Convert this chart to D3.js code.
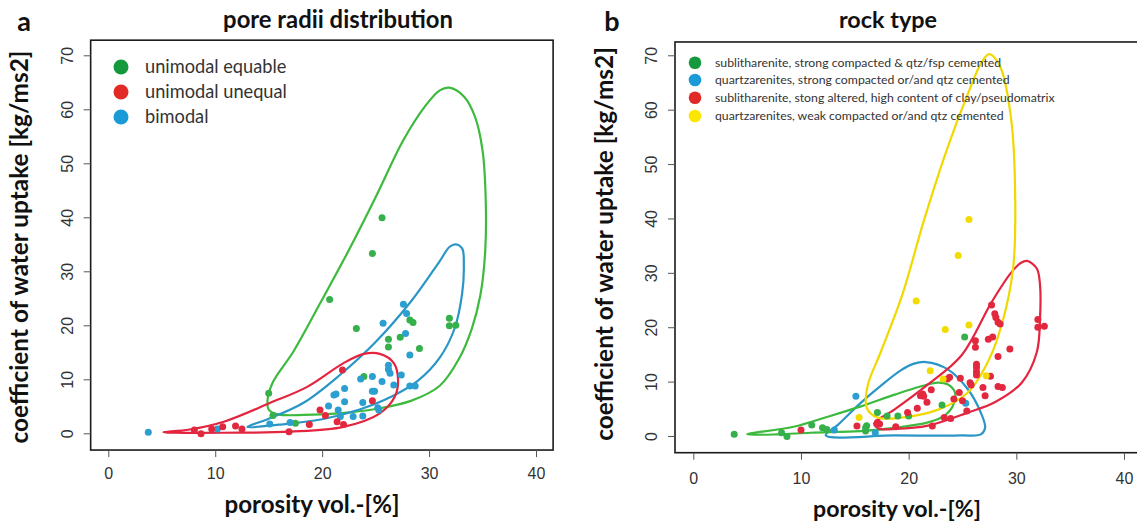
<!DOCTYPE html>
<html><head><meta charset="utf-8">
<script src="https://cdn.jsdelivr.net/npm/d3@7"></script>
<style>body{margin:0;background:#fff}</style>
</head><body>
<svg id="c" width="1137" height="526"></svg>
<script>
// ---------------- data ----------------
const xTicks = [0, 10, 20, 30, 40];
const yTicks = [0, 10, 20, 30, 40, 50, 60, 70];
const xLabel = "porosity vol.-[%]";
const yLabel = "coefficient of water uptake [kg/ms2]";
const titleA = "pore radii distribution";
const titleB = "rock type";

const legendA = ["unimodal equable", "unimodal unequal", "bimodal"];
const legendB = [
  "sublitharenite, strong compacted & qtz/fsp cemented",
  "quartzarenites, strong compacted or/and qtz cemented",
  "sublitharenite, stong altered, high content of clay/pseudomatrix",
  "quartzarenites, weak compacted or/and qtz cemented"
];

// panel a points
const aEquable = [[25.6,39.9],[24.7,33.3],[20.7,24.8],[23.2,19.4],[26.2,17.4],[26.2,16.0],[27.3,17.8],
  [28.2,21.0],[28.5,20.5],[29.1,15.7],[31.9,21.3],[31.9,19.9],[32.5,20.0],[15.0,7.4],[15.4,3.3],[17.5,1.85],[23.9,10.5]];
const aUnequal = [[8.05,0.6],[8.67,-0.1],[9.67,0.8],[10.7,1.2],[11.9,1.35],[12.5,0.8],[16.9,0.3],[18.8,1.65],
  [19.8,4.3],[20.3,3.3],[21.4,2.15],[22.0,1.65],[21.9,11.7],[24.7,6.05]];
const aBimodal = [[3.74,0.19],[10.2,0.8],[15.1,1.7],[17.0,2.0],[20.6,5.05],[21.1,7.1],[21.3,7.3],[21.5,4.3],
  [21.7,3.1],[22.1,8.3],[22.1,5.85],[22.9,3.1],[23.8,3.2],[23.6,10.05],[24.7,10.5],[23.8,5.7],[24.7,7.8],
  [24.9,7.8],[25.2,4.75],[25.3,4.3],[25.6,9.6],[26.2,12.6],[26.2,11.8],[26.35,11.1],[26.7,8.95],[27.4,10.8],
  [28.2,14.5],[28.2,8.75],[28.7,8.75],[25.7,20.4],[27.6,23.9],[27.9,22.2],[27.8,18.5]];

// panel a outlines
const aEquableHull = [[31.9,64.0],[33.3,62.3],[34.3,58.6],[35.0,52.4],[35.3,43.1],[35.25,33.7],[34.8,25.6],
  [34.0,19.4],[32.8,13.8],[31.0,8.8],[28.3,6.0],[25.0,4.5],[21.6,3.7],[18.3,3.4],[15.9,3.5],[15.0,4.4],
  [14.9,6.3],[15.4,9.5],[17.3,15.1],[19.9,24.4],[22.6,34.3],[25.0,43.7],[27.6,54.3],[29.6,60.5],[31.0,63.5]];
const aUnequalHull = [[5.15,0.2],[7.6,0.7],[10.8,2.15],[15.1,5.6],[18.6,8.6],[22.0,13.0],[23.9,14.7],
  [25.4,14.7],[26.7,13.0],[27.1,9.9],[26.8,6.8],[25.4,3.7],[22.0,1.2],[17.0,0.3],[10.8,0.1],[6.0,0.1]];
const aBimodalHull = [[32.5,35.0],[33.1,34.2],[33.25,31.0],[33.1,26.0],[32.4,19.5],[31.0,14.0],[29.0,9.8],
  [26.5,6.8],[23.5,4.4],[20.0,2.6],[16.0,1.6],[13.0,1.2],[14.9,2.6],[18.3,5.7],[21.6,10.7],[25.0,16.9],
  [28.3,24.4],[31.0,31.9],[31.9,34.5]];

// panel b points
const bSubCemented = [[3.8,0.3],[8.7,-0.1],[8.2,0.6],[11.0,2.0],[12.0,1.5],[12.4,1.2],[16.0,1.5],[16.0,0.9],
  [16.1,1.9],[17.1,4.3],[18.0,3.7],[19.0,3.7],[20.0,3.7],[23.1,5.7],[25.2,18.2]];
const bQtzStrong = [[15.1,7.3],[25.3,6.0],[13.1,1.1],[16.9,0.6]];
const bSubAltered = [[10.0,1.1],[15.2,1.85],[17.1,2.5],[17.3,2.2],[18.8,1.7],[19.9,4.3],[20.8,5.1],[21.1,7.4],
  [21.3,7.7],[21.4,7.3],[21.7,6.2],[22.1,8.5],[22.2,1.85],[23.6,10.5],[23.8,10.8],[23.3,3.4],[23.9,3.2],
  [24.2,6.8],[24.7,8.0],[24.8,10.6],[25.0,6.5],[25.4,4.6],[25.7,9.8],[25.8,9.4],[26.2,17.5],[26.2,16.3],
  [26.3,13.2],[26.3,12.6],[26.3,11.8],[26.3,11.2],[26.9,8.9],[27.1,7.4],[27.4,17.8],[27.7,24.1],[27.8,18.2],
  [27.6,11.0],[28.0,22.5],[28.1,21.8],[28.3,20.9],[28.5,20.6],[28.3,14.6],[28.3,9.1],[28.7,8.9],[29.4,16.0],
  [32.0,21.4],[32.0,20.0],[32.6,20.2]];
const bQtzWeak = [[25.6,39.8],[24.6,33.2],[20.7,24.8],[23.4,19.6],[25.6,20.4],[22.0,12.0],[23.2,10.5],
  [27.2,11.1],[15.4,3.4]];

// panel b outlines
const bSubCementedHull = [[5.0,0.3],[9.3,1.7],[12.4,3.5],[15.5,5.4],[18.7,7.6],[21.1,9.1],[22.7,9.8],
  [23.6,9.5],[24.3,8.0],[24.1,5.5],[23.3,3.7],[21.8,2.5],[18.7,1.5],[15.5,0.9],[10.9,0.6],[7.8,0.3]];
const bQtzStrongHull = [[21.6,13.6],[23.6,12.3],[25.5,8.6],[26.7,4.3],[27.1,1.5],[26.7,0.3],[24.9,0.1],
  [18.7,0.1],[12.3,0.1],[13.4,2.0],[15.5,6.0],[17.4,9.2],[19.3,12.1],[20.5,13.3]];
const bSubAlteredHull = [[31.0,32.2],[31.9,30.8],[32.2,27.8],[32.2,21.6],[31.9,15.4],[30.5,9.8],[28.0,6.2],
  [25.5,4.3],[21.8,1.9],[18.8,1.3],[17.2,1.4],[16.8,2.3],[18.7,4.9],[21.8,9.5],[24.9,14.8],[27.7,24.6],
  [29.5,30.0],[30.4,31.8]];
const bQtzWeakHull = [[27.5,70.2],[28.5,67.9],[29.5,58.6],[29.9,43.2],[29.7,30.8],[28.8,21.6],[27.5,14.2],
  [25.5,8.0],[22.8,4.9],[19.4,3.4],[17.1,3.4],[16.1,5.2],[16.2,9.3],[17.4,15.4],[19.4,25.9],[21.4,39.5],
  [23.5,52.4],[25.5,62.9],[26.8,68.8]];

// ---------------- styles ----------------
const C = {
  green:  {pt:"#35b04a", line:"#3dba3d", leg:"#14993c"},
  red:    {pt:"#e2283f", line:"#e3253f", leg:"#e12a27"},
  blue:   {pt:"#2a9fd0", line:"#2996c6", leg:"#1b9ad8"},
  yellow: {pt:"#f2dc00", line:"#f0d800", leg:"#fbe600"}
};
const TICKC = "#333";

const svg = d3.select("#c");

function fitFont(sel, target) {
  const w = sel.node().getComputedTextLength();
  const fs = parseFloat(sel.attr("font-size"));
  sel.attr("font-size", fs * target / w);
}

function panel(cfg) {
  const x = d3.scaleLinear().domain([0, 40]).range(cfg.xr);
  const y = d3.scaleLinear().domain([0, 70]).range(cfg.yr);
  const g = svg.append("g");
  const bx0 = x(cfg.xLim[0]), bx1 = x(cfg.xLim[1]), by0 = y(cfg.yLim[1]), by1 = y(cfg.yLim[0]);

  // contours
  const line = d3.line().x(d => x(d[0])).y(d => y(d[1])).curve(d3.curveCatmullRomClosed.alpha(0.5));
  cfg.hulls.forEach(h => {
    g.append("path").attr("d", line(h.data)).attr("fill", "none")
      .attr("stroke", h.col.line).attr("stroke-width", 2.2);
  });
  // points
  cfg.points.forEach(p => {
    g.append("g").selectAll("circle").data(p.data).join("circle")
      .attr("cx", d => x(d[0])).attr("cy", d => y(d[1])).attr("r", 3.5)
      .attr("fill", p.col.pt);
  });

  // box
  g.append("rect").attr("x", bx0).attr("y", by0).attr("width", bx1 - bx0).attr("height", by1 - by0)
    .attr("fill", "none").attr("stroke", "#1a1a1a").attr("stroke-width", 1.6);

  // x axis
  const xa = g.append("g").attr("transform", `translate(0,${by1})`)
    .call(d3.axisBottom(x).tickValues(xTicks).tickSize(7).tickSizeOuter(0));
  xa.select(".domain").remove();
  xa.selectAll("line").attr("stroke", "#555").attr("stroke-width", 1);
  xa.selectAll("text").attr("font-family", "Liberation Sans, Arial, sans-serif").attr("font-size", 16)
    .attr("fill", TICKC).attr("dy", null).attr("y", cfg.xTickY);
  // y axis
  const ya = g.append("g").attr("transform", `translate(${bx0},0)`)
    .call(d3.axisLeft(y).tickValues(yTicks).tickSize(7).tickSizeOuter(0));
  ya.select(".domain").remove();
  ya.selectAll("line").attr("stroke", "#555").attr("stroke-width", 1);
  ya.selectAll("text").attr("font-family", "Liberation Sans, Arial, sans-serif").attr("font-size", 16)
    .attr("fill", TICKC).attr("x", null).attr("dy", null)
    .attr("text-anchor", "middle")
    .attr("transform", `translate(${cfg.yTickX},0) rotate(-90)`);

  // titles
  const t = g.append("text").attr("x", cfg.titleX).attr("y", 28).attr("text-anchor", "middle")
    .attr("font-family", "Lato, Open Sans, sans-serif").attr("font-weight", 700).attr("font-size", 22)
    .attr("fill", "#111").text(cfg.title);
  fitFont(t, cfg.titleW);
  g.append("text").attr("x", cfg.letterX).attr("y", 31).attr("text-anchor", "middle")
    .attr("font-family", "Lato, Open Sans, sans-serif").attr("font-weight", 700).attr("font-size", 27)
    .attr("fill", "#111").text(cfg.letter);
  const xl = g.append("text").attr("x", cfg.xLabX).attr("y", cfg.xLabY).attr("text-anchor", "middle")
    .attr("font-family", "Lato, Open Sans, sans-serif").attr("font-weight", 700).attr("font-size", 22)
    .attr("fill", "#111").text(xLabel);
  fitFont(xl, cfg.xLabW);
  const yl = g.append("text").attr("transform", `translate(${cfg.yLabX},${cfg.yLabY}) rotate(-90)`)
    .attr("text-anchor", "middle")
    .attr("font-family", "Lato, Open Sans, sans-serif").attr("font-weight", 700).attr("font-size", 22)
    .attr("fill", "#111").text(yLabel);
  fitFont(yl, cfg.yLabW);

  // legend
  const lg = g.append("g");
  cfg.legend.forEach((L, i) => {
    lg.append("circle").attr("cx", cfg.legX).attr("cy", cfg.legY[i]).attr("r", cfg.legR).attr("fill", L.col.leg);
    lg.append("text").attr("x", cfg.legTX).attr("y", cfg.legY[i]).attr("dy", "0.35em")
      .attr("font-family", "Lato, Open Sans, sans-serif").attr("font-size", cfg.legFS)
      .attr("fill", "#333").text(L.label);
  });
  const texts = lg.selectAll("text");
  let maxW = 0; texts.each(function(){ maxW = Math.max(maxW, this.getComputedTextLength()); });
  texts.attr("font-size", cfg.legFS * cfg.legMaxW / maxW);
}

panel({
  xr: [108.3, 536], yr: [433.3, 55.3], xLim: [-1.65, 41.6], yLim: [-3.1, 72.8],
  xTickY: 29, yTickX: -18,
  title: titleA, titleX: 338, titleW: 230, letter: "a", letterX: 24,
  xLabX: 312, xLabY: 513, xLabW: 175, yLabX: 28, yLabY: 247, yLabW: 393,
  hulls: [{data: aEquableHull, col: C.green}, {data: aBimodalHull, col: C.blue}, {data: aUnequalHull, col: C.red}],
  points: [{data: aEquable, col: C.green}, {data: aBimodal, col: C.blue}, {data: aUnequal, col: C.red}],
  legend: [{label: legendA[0], col: C.green}, {label: legendA[1], col: C.red}, {label: legendA[2], col: C.blue}],
  legX: 121, legY: [67, 92, 117], legR: 7.5, legTX: 145, legFS: 17, legMaxW: 142
});

panel({
  xr: [693.3, 1124], yr: [436, 55.3], xLim: [-1.7, 41.6], yLim: [-3.07, 72.45],
  xTickY: 31, yTickX: -18,
  title: titleB, titleX: 888, titleW: 98, letter: "b", letterX: 612,
  xLabX: 897, xLabY: 517, xLabW: 168, yLabX: 613, yLabY: 244, yLabW: 394,
  hulls: [{data: bQtzStrongHull, col: C.blue}, {data: bSubCementedHull, col: C.green}, {data: bSubAlteredHull, col: C.red}, {data: bQtzWeakHull, col: C.yellow}],
  points: [{data: bSubCemented, col: C.green}, {data: bQtzStrong, col: C.blue}, {data: bSubAltered, col: C.red}, {data: bQtzWeak, col: C.yellow}],
  legend: [{label: legendB[0], col: C.green}, {label: legendB[1], col: C.blue}, {label: legendB[2], col: C.red}, {label: legendB[3], col: C.yellow}],
  legX: 695, legY: [62.7, 80, 97.7, 116], legR: 6.3, legTX: 715, legFS: 12, legMaxW: 340
});
</script>
</body></html>
